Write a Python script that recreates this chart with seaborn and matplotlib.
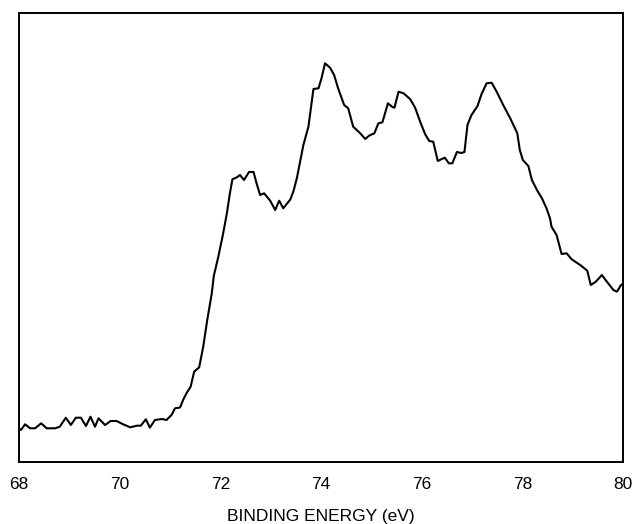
import numpy as np
import pandas as pd
import matplotlib
matplotlib.use("Agg")
import matplotlib.pyplot as plt
import seaborn as sns

# Binding energy (eV) and intensity (arb. units)
energy = [68.00, 68.04, 68.12, 68.22, 68.32, 68.44, 68.55, 68.72, 68.81, 68.93,
          69.03, 69.13, 69.23, 69.33, 69.42, 69.51, 69.58, 69.71, 69.82, 69.94,
          70.07, 70.21, 70.34, 70.42, 70.52, 70.60, 70.70, 70.84, 70.93, 71.03,
          71.10, 71.20, 71.26, 71.33, 71.41, 71.48, 71.58, 71.66, 71.74, 71.83,
          71.87, 71.96, 72.05, 72.13, 72.19, 72.24, 72.33, 72.39, 72.47, 72.57,
          72.66, 72.72, 72.79, 72.87, 72.99, 73.09, 73.17, 73.25, 73.39, 73.45,
          73.52, 73.58, 73.65, 73.75, 73.85, 73.95, 74.01, 74.08, 74.18, 74.26,
          74.34, 74.46, 74.54, 74.64, 74.78, 74.88, 74.96, 75.06, 75.14, 75.22,
          75.33, 75.41, 75.46, 75.54, 75.64, 75.77, 75.87, 75.97, 76.07, 76.15,
          76.23, 76.32, 76.40, 76.46, 76.54, 76.61, 76.70, 76.79, 76.85, 76.91,
          76.99, 77.11, 77.19, 77.29, 77.39, 77.49, 77.62, 77.76, 77.90, 77.95,
          78.01, 78.12, 78.19, 78.29, 78.39, 78.48, 78.55, 78.58, 78.68, 78.78,
          78.88, 78.98, 79.15, 79.29, 79.36, 79.46, 79.58, 79.68, 79.81, 79.88,
          79.96, 80.00]
intensity = [33.7, 32.0, 37.7, 33.7, 33.7, 38.7, 33.7, 33.7, 35.3, 44.3,
             37.0, 44.3, 44.3, 36.0, 45.3, 35.3, 43.7, 37.0, 41.0, 41.0,
             37.7, 34.7, 36.3, 36.3, 42.7, 34.3, 42.0, 43.0, 42.0, 47.0,
             53.7, 54.5, 62.0, 69.0, 75.3, 90.3, 94.7, 115.3, 142.0, 168.7,
             186.0, 205.3, 227.0, 248.7, 268.7, 282.7, 284.7, 287.0, 282.0, 290.0,
             290.0, 278.7, 267.0, 268.7, 261.3, 252.0, 261.3, 253.7, 262.5, 270.3,
             283.7, 299.0, 317.0, 335.3, 373.0, 373.7, 383.7, 398.7, 394.3, 387.0,
             373.7, 357.0, 353.7, 335.3, 328.7, 323.0, 326.5, 328.7, 338.7, 339.7,
             358.7, 355.3, 354.3, 370.3, 368.7, 363.0, 354.3, 340.3, 327.7, 321.0,
             320.3, 301.0, 303.0, 304.3, 298.7, 298.7, 310.0, 309.0, 310.0, 337.0,
             347.0, 356.0, 368.0, 378.7, 379.3, 370.3, 357.0, 343.7, 328.7, 312.0,
             302.0, 296.0, 282.0, 272.0, 263.7, 253.7, 243.7, 235.3, 227.0, 208.0,
             208.7, 202.7, 197.0, 191.3, 177.0, 180.3, 187.0, 180.3, 172.0, 170.3,
             177.0, 178.0]
xticks = [68, 70, 72, 74, 76, 78, 80]
xlabel = "BINDING ENERGY (eV)"

sns.set_style("white")
plt.rcParams['font.family'] = ['Liberation Sans', 'DejaVu Sans']

df = pd.DataFrame({"energy": energy, "intensity": intensity})

fig = plt.figure(figsize=(6.33, 5.24), dpi=100)
ax = fig.add_axes([19 / 633, 1 - 462 / 524, 604 / 633, 449 / 524])
sns.lineplot(data=df, x="energy", y="intensity", ax=ax, color="black",
             linewidth=1.5, sort=False)

ax.set_xlim(68, 80)
ax.set_ylim(0, 449)
ax.set_xticks(xticks)
ax.set_xticklabels([str(t) for t in xticks], fontsize=12.5, color="black")
ax.set_yticks([])
ax.tick_params(axis="x", length=0, pad=11)
ax.set_xlabel(xlabel, fontsize=12.5, labelpad=12, color="black")
ax.set_ylabel("")
for s in ax.spines.values():
    s.set_visible(True)
    s.set_color("black")
    s.set_linewidth(1.4)

fig.savefig("out.png", dpi=100)
